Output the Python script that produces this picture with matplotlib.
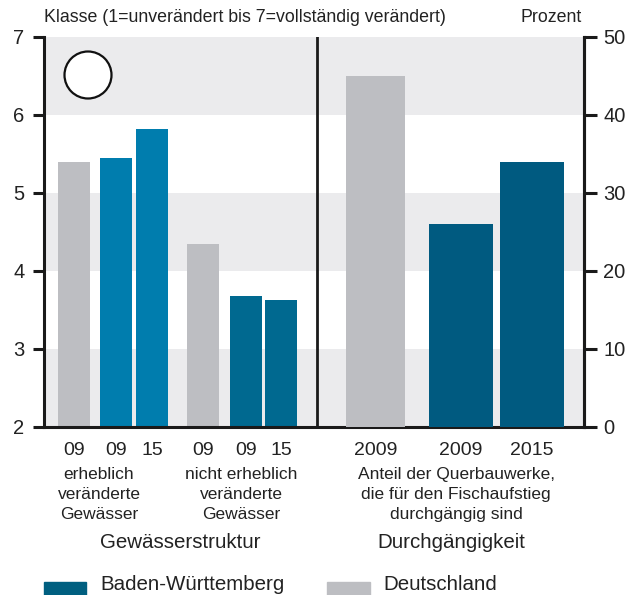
import matplotlib
matplotlib.use("Agg")
import matplotlib.pyplot as plt
from matplotlib.patches import Rectangle, Ellipse

plt.rcParams['font.family'] = ['Liberation Sans', 'DejaVu Sans']

# ---- data ----
left_years = ["09", "09", "15", "09", "09", "15"]
left_series = ["DE", "BW", "BW", "DE", "BW", "BW"]
left_values = [5.40, 5.45, 5.82, 4.35, 3.68, 3.63]          # Klasse
right_years = ["2009", "2009", "2015"]
right_series = ["DE", "BW", "BW"]
right_values = [45, 26, 34]                                   # Prozent
left_groups = ["erheblich\nveränderte\nGewässer", "nicht erheblich\nveränderte\nGewässer"]
right_group = "Anteil der Querbauwerke,\ndie für den Fischaufstieg\ndurchgängig sind"
section_labels = ["Gewässerstruktur", "Durchgängigkeit"]
left_ticks = [2, 3, 4, 5, 6, 7]
right_ticks = [0, 10, 20, 30, 40, 50]

# ---- style ----
GRAY = "#bdbec2"
BAND = "#ebebed"
BW_LIGHT = "#007dae"
BW_MID = "#006990"
BW_DARK = "#005a80"
LEG_BW = "#005f80"
TXT = "#222222"

W, H = 627, 595
fig = plt.figure(figsize=(W / 100, H / 100), dpi=100)
x0, x1, y0, y1 = 44, 584, 427, 37
ax = fig.add_axes([x0 / W, 1 - y0 / H, (x1 - x0) / W, (y0 - y1) / H])
ax.set_xlim(x0, x1)
ax.set_ylim(2, 7)
ax2 = ax.twinx()
ax2.set_ylim(0, 50)

# background bands
for lo in (2, 4, 6):
    ax.axhspan(lo, lo + 1, color=BAND, lw=0, zorder=0)

# positions (layout)
left_x = [74, 116, 152, 203, 246, 281]
left_w = 32
left_colors = [GRAY, BW_LIGHT, BW_LIGHT, GRAY, BW_MID, BW_MID]
right_x = [375.5, 461, 532]
right_w = [59, 64, 64]
right_colors = [GRAY, BW_DARK, BW_DARK]

ax.bar(left_x, [v - 2 for v in left_values], bottom=2, width=left_w,
       color=left_colors, zorder=2)
ax2.bar(right_x, right_values, width=right_w, color=right_colors, zorder=2)

# divider
ax.axvline(317, color="#1a1a1a", lw=2, zorder=3)

# spines
for a in (ax, ax2):
    a.spines['top'].set_visible(False)
    for s in ('left', 'right', 'bottom'):
        a.spines[s].set_linewidth(2.2)
        a.spines[s].set_color("#1a1a1a")
ax2.spines['left'].set_visible(False)
ax2.spines['bottom'].set_visible(False)

ax.set_yticks(left_ticks)
ax.set_yticklabels([str(t) for t in left_ticks])
ax2.set_yticks(right_ticks)
ax2.set_yticklabels([str(t) for t in right_ticks])
ax.tick_params(axis='y', length=8, width=2.2, color="#1a1a1a", labelsize=14.5,
               pad=6, labelcolor=TXT)
ax2.tick_params(axis='y', length=9, width=2.2, color="#1a1a1a", labelsize=14.5,
                pad=5, labelcolor=TXT)
ax.set_xticks(left_x + right_x)
ax.set_xticklabels(left_years + right_years, fontsize=14, color=TXT)
ax.tick_params(axis='x', length=0, pad=11)

# circle marker
fig.patches.append(Ellipse((88 / W, 1 - 75 / H), 47 / W, 47 / H,
                           transform=fig.transFigure, fill=True, facecolor="white",
                           ec="#111111", lw=1.6))

# header texts
fig.text(44 / W, 1 - 18 / H, "Klasse (1=unverändert bis 7=vollständig verändert)",
         fontsize=12.8, va='center', ha='left', color=TXT)
fig.text(582 / W, 1 - 18 / H, "Prozent", fontsize=12.8, va='center', ha='right',
         color=TXT)

# group labels
for xc, txt in ((99, left_groups[0]), (241, left_groups[1]), (456, right_group)):
    fig.text(xc / W, 1 - 467 / H, txt, fontsize=12.5, ha='center', va='top',
             linespacing=1.42, color=TXT)
fig.text(180 / W, 1 - 543 / H, section_labels[0], fontsize=14.8, ha='center',
         va='center', color=TXT)
fig.text(451 / W, 1 - 543 / H, section_labels[1], fontsize=14.8, ha='center',
         va='center', color=TXT)

# legend
fig.patches.append(Rectangle((44 / W, 0), 42 / W, 13 / H, transform=fig.transFigure,
                             color=LEG_BW))
fig.text(100 / W, 1 - 585 / H, "Baden-Württemberg", fontsize=14.8, ha='left',
         va='center', color=TXT)
fig.patches.append(Rectangle((327 / W, 0), 43 / W, 13 / H, transform=fig.transFigure,
                             color=GRAY))
fig.text(383 / W, 1 - 585 / H, "Deutschland", fontsize=14.8, ha='left',
         va='center', color=TXT)

fig.savefig("out.png", dpi=100)
